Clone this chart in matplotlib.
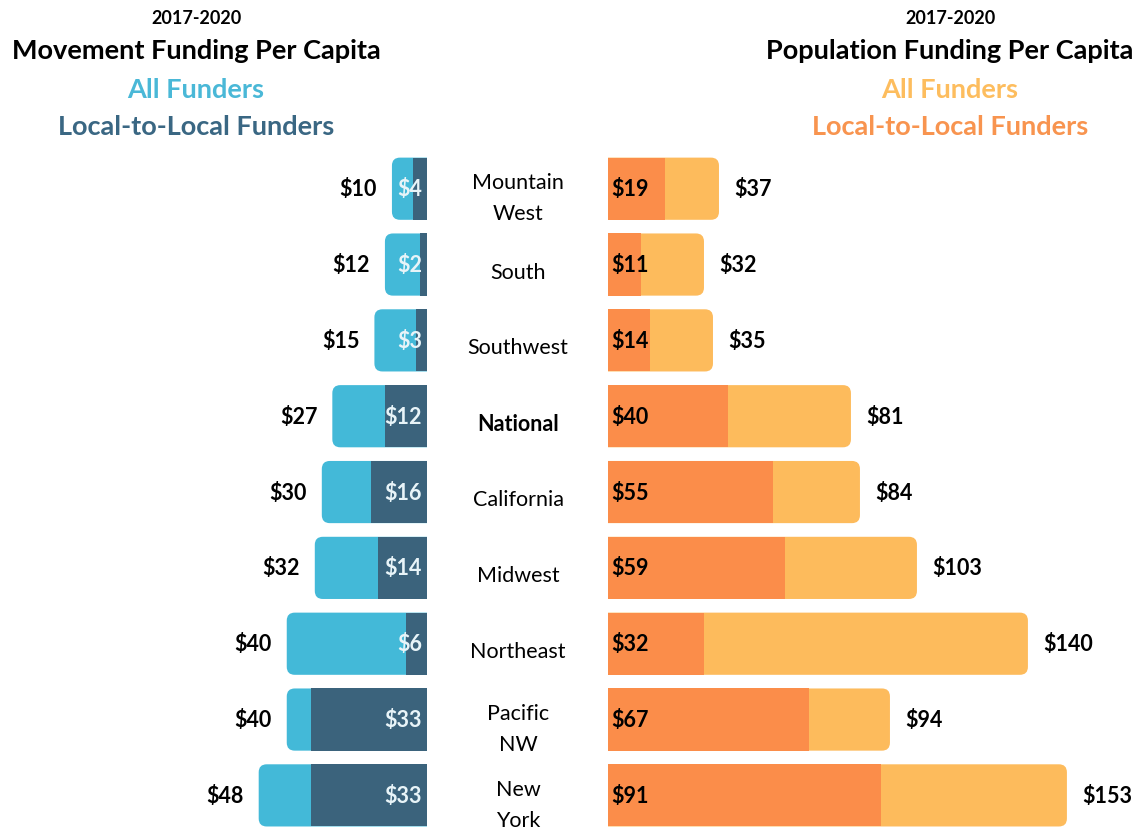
import matplotlib.pyplot as plt
from matplotlib.patches import FancyBboxPatch

plt.rcParams['font.family'] = ['Lato', 'DejaVu Sans']

# Data (2017-2020, dollars per capita)
regions = ['Mountain\nWest', 'South', 'Southwest', 'National', 'California',
           'Midwest', 'Northeast', 'Pacific\nNW', 'New\nYork']
movement_all = [10, 12, 15, 27, 30, 32, 40, 40, 48]
movement_local = [4, 2, 3, 12, 16, 14, 6, 33, 33]
population_all = [37, 32, 35, 81, 84, 103, 140, 94, 153]
population_local = [19, 11, 14, 40, 55, 59, 32, 67, 91]

# Colours
light_blue = '#43b9d8'
dark_blue = '#3b637c'
yellow = '#fdbb5c'
orange = '#fb8d4a'

W, H = 1144, 829
fig = plt.figure(figsize=(W / 100, H / 100), dpi=100)

top_px = 148
ax_h = (H - top_px) / H
ax_l = fig.add_axes([150 / W, 0, (427 - 150) / W, ax_h])
ax_r = fig.add_axes([608 / W, 0, (W - 608) / W, ax_h])

n = len(regions)
ylim = (n - 0.57, -0.55)
bar_h = 0.82
radius_px = 8

ax_l.set_xlim(79, 0)
ax_r.set_xlim(0, 178.7)


def rounded_bars(ax, values, color, width_px):
    xmin, xmax = sorted(ax.get_xlim())
    x_per_px = (xmax - xmin) / width_px
    y_per_px = abs(ylim[0] - ylim[1]) / (H - top_px)
    r = radius_px * x_per_px
    for i, v in enumerate(values):
        start = -3 * r  # starts past the axis edge so inner end is clipped square
        patch = FancyBboxPatch((start, i - bar_h / 2), v - start, bar_h,
                               boxstyle=f'round,pad=0,rounding_size={r}',
                               mutation_aspect=y_per_px / x_per_px,
                               facecolor=color, edgecolor='none')
        ax.add_patch(patch)


for ax in (ax_l, ax_r):
    ax.set_ylim(*ylim)
    ax.axis('off')

val_size = 15.5
val_weight = 'bold'

# Left: movement funding
rounded_bars(ax_l, movement_all, light_blue, 427 - 150)
ax_l.barh(range(n), movement_local, height=bar_h, color=dark_blue)
for i in range(n):
    ax_l.annotate(f'${movement_all[i]}', xy=(movement_all[i], i),
                  xytext=(-15, 0), textcoords='offset pixels',
                  ha='right', va='center', fontsize=val_size, fontweight=val_weight,
                  color='black', annotation_clip=False)
    ax_l.annotate(f'${movement_local[i]}', xy=(0, i),
                  xytext=(-5, 0), textcoords='offset pixels',
                  ha='right', va='center', fontsize=val_size, fontweight=val_weight,
                  color='#e8f4f8', annotation_clip=False)

# Right: population funding
rounded_bars(ax_r, population_all, yellow, W - 608)
ax_r.barh(range(n), population_local, height=bar_h, color=orange)
for i in range(n):
    ax_r.annotate(f'${population_all[i]}', xy=(population_all[i], i),
                  xytext=(15, 0), textcoords='offset pixels',
                  ha='left', va='center', fontsize=val_size, fontweight=val_weight,
                  color='black', annotation_clip=False)
    ax_r.annotate(f'${population_local[i]}', xy=(0, i),
                  xytext=(3, 0), textcoords='offset pixels',
                  ha='left', va='center', fontsize=val_size, fontweight=val_weight,
                  color='black', annotation_clip=False)

# Region names in the middle
for i, name in enumerate(regions):
    shift = -9 if '\n' in name else -7
    ax_r.annotate(name, xy=(518 / W, i), xycoords=('figure fraction', 'data'),
                  xytext=(0, shift), textcoords='offset pixels',
                  ha='center', va='center', fontsize=15.5, linespacing=1.7,
                  fontweight='bold' if name == 'National' else 'normal',
                  color='black', annotation_clip=False)

# Headers
left_c, right_c = 196 / W, 950 / W
for xc, title, c1, c2 in [(left_c, 'Movement Funding Per Capita', '#4ab8d7', '#3a6783'),
                          (right_c, 'Population Funding Per Capita', '#fdbd5e', '#f8944f')]:
    fig.text(xc, 1 - 18 / H, '2017-2020', ha='center', va='center',
             fontsize=13, fontweight='bold', color='black')
    fig.text(xc, 1 - 51 / H, title, ha='center', va='center',
             fontsize=19.5, fontweight='bold', color='black')
    fig.text(xc, 1 - 90 / H, 'All Funders', ha='center', va='center',
             fontsize=19.5, fontweight='bold', color=c1)
    fig.text(xc, 1 - 127 / H, 'Local-to-Local Funders', ha='center', va='center',
             fontsize=19.5, fontweight='bold', color=c2)

fig.savefig('out.png', dpi=100)
